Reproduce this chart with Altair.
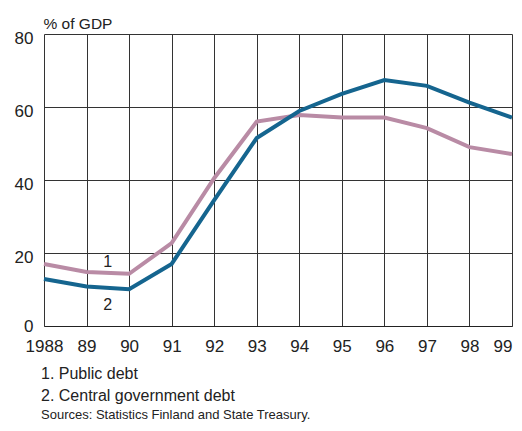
import altair as alt
import pandas as pd

years = [1988, 1989, 1990, 1991, 1992, 1993, 1994, 1995, 1996, 1997, 1998, 1999]
public_debt = [17.0, 14.8, 14.3, 22.7, 40.5, 56.0, 57.8, 57.1, 57.1, 54.2, 49.0, 47.1]
central_debt = [12.9, 10.8, 10.1, 17.0, 34.5, 51.5, 58.9, 63.6, 67.4, 65.8, 61.2, 57.1]
series_names = ["Public debt", "Central government debt"]
series_colors = ["#b98ba5", "#15658f"]
line_labels = ["1", "2"]
label_x = [1989.5, 1989.5]
label_y = [17.4, 5.8]
y_ticks = [0, 20, 40, 60, 80]
notes = ["1. Public debt", "2. Central government debt"]
source = "Sources: Statistics Finland and State Treasury."

rows = []
for name, vals in zip(series_names, [public_debt, central_debt]):
    for yr, v in zip(years, vals):
        rows.append({"year": yr, "value": v, "series": name})
df = pd.DataFrame(rows)
lab_df = pd.DataFrame({"x": label_x, "y": label_y, "t": line_labels})

FONT = "Liberation Sans"
TXT = "#222222"

x = alt.X(
    "year:Q",
    scale=alt.Scale(domain=[1988, 1999], nice=False, zero=False),
    axis=alt.Axis(
        values=years,
        labelExpr="datum.value == 1988 ? '1988' : slice(toString(datum.value), 2)",
        labelOverlap=False, labelBound=False,
        labelAlign={"condition": {"test": "datum.value == 1999", "value": "right"}, "value": "center"},
        grid=True, gridColor="#333333", gridWidth=1,
        ticks=False, tickSize=0, domain=True, domainColor="#222222", domainWidth=1,
        labelFontSize=17, labelColor=TXT, labelPadding=12, labelFont=FONT,
        title=None,
    ),
)
y = alt.Y(
    "value:Q",
    scale=alt.Scale(domain=[0, 80], nice=False),
    axis=alt.Axis(
        values=y_ticks,
        grid=True, gridColor="#333333", gridWidth=1,
        ticks=False, tickSize=0, domain=False,
        labelFontSize=17, labelColor=TXT, labelPadding=11, labelFont=FONT,
        labelOffset={"condition": {"test": "datum.value == 0", "value": 0}, "value": 4},
        title="% of GDP", titleAngle=0, titleAlign="left", titleBaseline="alphabetic",
        titleX=-1, titleY=-6, titleFontSize=15.5, titleFontWeight="normal",
        titleColor=TXT, titleFont=FONT,
    ),
)

lines = alt.Chart(df).mark_line(strokeWidth=4, strokeJoin="miter").encode(
    x=x, y=y,
    color=alt.Color("series:N", scale=alt.Scale(domain=series_names, range=series_colors), legend=None),
    order=alt.Order("year:Q"),
    detail="series:N",
)

labels = alt.Chart(lab_df).mark_text(fontSize=16, font=FONT, color=TXT).encode(
    x="x:Q", y="y:Q", text="t:N"
)

note_layer = alt.Chart(pd.DataFrame({"t": [notes[0]]})).mark_text(
    fontSize=16, font=FONT, color=TXT, align="left", baseline="alphabetic"
).encode(x=alt.value(-3), y=alt.value(345), text="t:N")
note_layer2 = alt.Chart(pd.DataFrame({"t": [notes[1]]})).mark_text(
    fontSize=16, font=FONT, color=TXT, align="left", baseline="alphabetic"
).encode(x=alt.value(-3), y=alt.value(367), text="t:N")
note_layer3 = alt.Chart(pd.DataFrame({"t": [source]})).mark_text(
    fontSize=13, font=FONT, color=TXT, align="left", baseline="alphabetic"
).encode(x=alt.value(-3), y=alt.value(385), text="t:N")

chart = alt.layer(lines, labels, note_layer, note_layer2, note_layer3).properties(
    width=468, height=292,
    autosize=alt.AutoSizeParams(type="none"),
    padding={"left": 36, "top": 26, "right": 2, "bottom": 97},
).configure_view(strokeWidth=0)

chart.save("out.html", embed_options={"renderer": "svg", "actions": False})
